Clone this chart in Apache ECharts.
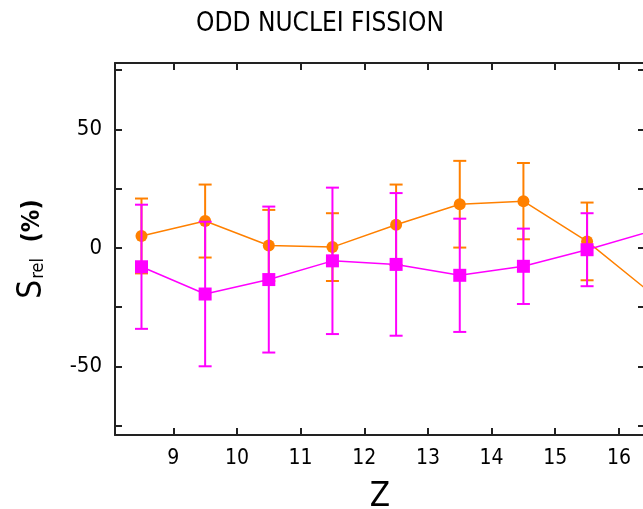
<!DOCTYPE html>
<html>
<head>
<meta charset="utf-8">
<script src="https://cdn.jsdelivr.net/npm/echarts@6/dist/echarts.min.js"></script>
<style>
html,body{margin:0;padding:0;background:#fff;}
#chart{width:643px;height:509px;}
</style>
</head>
<body>
<div id="chart"></div>
<script>
// ---- data ----
const zValues = [8.5, 9.5, 10.5, 11.5, 12.5, 13.5, 14.5, 15.5, 16.5];
const orangeValues = [5.0, 11.3, 1.0, 0.3, 9.7, 18.4, 19.7, 2.7, -19.0];
const orangeErrors = [15.8, 15.4, 15.0, 14.3, 17.0, 18.3, 16.1, 16.4, 15.0];
const magentaValues = [-8.0, -19.5, -13.4, -5.5, -7.0, -11.6, -7.8, -0.8, 7.0];
const magentaErrors = [26.2, 30.5, 30.8, 30.9, 30.1, 23.9, 15.9, 15.4, 15.0];
const xTickValues = [9, 10, 11, 12, 13, 14, 15, 16];
const yTickValues = [-75, -50, -25, 0, 25, 50, 75];
const yLabelValues = [-50, 0, 50];
const titleText = 'ODD NUCLEI FISSION';
const xName = 'Z';

const ORANGE = '#FF8000';
const MAGENTA = '#FF00FF';
const AXIS = '#222222';
const FONT = "'Liberation Sans Narrow', 'DejaVu Sans Condensed', 'Liberation Sans', sans-serif";

function pairs(vals) { return zValues.map((z, i) => [z, vals[i]]); }
function triples(vals, errs) { return zValues.map((z, i) => [z, vals[i], errs[i]]); }

function errorBar(color) {
  return function (params, api) {
    const x = api.value(0), y = api.value(1), e = api.value(2);
    const top = api.coord([x, y + e]);
    const bot = api.coord([x, y - e]);
    const w = 6.5;
    const st = { stroke: color, lineWidth: 2, fill: null };
    return {
      type: 'group',
      children: [
        { type: 'line', shape: { x1: top[0], y1: top[1], x2: bot[0], y2: bot[1] }, style: st },
        { type: 'line', shape: { x1: top[0] - w, y1: top[1], x2: top[0] + w, y2: top[1] }, style: st },
        { type: 'line', shape: { x1: bot[0] - w, y1: bot[1], x2: bot[0] + w, y2: bot[1] }, style: st }
      ]
    };
  };
}

const xMin = 8.084, xMax = 16.41, yMin = -79, yMax = 78;
const axisLineStyle = { color: AXIS, width: 2 };

const chart = echarts.init(document.getElementById('chart'), null, { renderer: 'canvas' });
chart.setOption({
  animation: false,
  backgroundColor: '#fff',
  title: {
    text: titleText,
    left: 315,
    top: 6,
    textAlign: 'center',
    textStyle: { fontFamily: FONT, fontSize: 26, fontWeight: 'normal', color: '#000' }
  },
  grid: { left: 115, top: 63, width: 530, height: 372, containLabel: false, outerBoundsMode: 'none' },
  xAxis: [
    {
      type: 'value', position: 'bottom', min: xMin, max: xMax,
      axisLine: { show: true, onZero: false, lineStyle: axisLineStyle },
      axisTick: { show: true, inside: true, length: 7, customValues: xTickValues, lineStyle: axisLineStyle },
      axisLabel: { show: true, customValues: xTickValues, margin: 13, fontFamily: FONT, fontSize: 21, color: '#000' },
      splitLine: { show: false },
      name: xName, nameLocation: 'middle', nameGap: 46,
      nameTextStyle: { fontFamily: FONT, fontSize: 33, color: '#000' }
    },
    {
      type: 'value', position: 'top', min: xMin, max: xMax,
      axisLine: { show: true, onZero: false, lineStyle: axisLineStyle },
      axisTick: { show: true, inside: true, length: 7, customValues: xTickValues, lineStyle: axisLineStyle },
      axisLabel: { show: false },
      splitLine: { show: false }
    }
  ],
  yAxis: [
    {
      type: 'value', position: 'left', min: yMin, max: yMax,
      axisLine: { show: true, onZero: false, lineStyle: axisLineStyle },
      axisTick: { show: true, inside: true, length: 7, customValues: yTickValues, lineStyle: axisLineStyle },
      axisLabel: { show: true, customValues: yLabelValues, margin: 13, fontFamily: FONT, fontSize: 22, color: '#000' },
      splitLine: { show: false },
      name: '{s|S}{sub|rel}{p|  (%)}',
      nameLocation: 'middle', nameGap: 66, nameRotate: 90,
      nameTextStyle: {
        color: '#000',
        rich: {
          s: { fontFamily: FONT, fontSize: 33, color: '#000' },
          sub: { fontFamily: FONT, fontSize: 18, color: '#000', padding: [12, 0, 0, 1] },
          p: { fontFamily: FONT, fontSize: 25, fontWeight: 'bold', color: '#000' }
        }
      }
    },
    {
      type: 'value', position: 'right', min: yMin, max: yMax,
      axisLine: { show: true, onZero: false, lineStyle: axisLineStyle },
      axisTick: { show: true, inside: true, length: 7, customValues: yTickValues, lineStyle: axisLineStyle },
      axisLabel: { show: false },
      splitLine: { show: false }
    }
  ],
  series: [
    {
      name: 'orange errors', type: 'custom', xAxisIndex: 0, yAxisIndex: 0,
      renderItem: errorBar(ORANGE), data: triples(orangeValues, orangeErrors), clip: true, z: 2
    },
    {
      name: 'orange', type: 'line', xAxisIndex: 0, yAxisIndex: 0,
      data: pairs(orangeValues), clip: true,
      symbol: 'circle', symbolSize: 12,
      lineStyle: { color: ORANGE, width: 1.5 },
      itemStyle: { color: ORANGE },
      z: 3
    },
    {
      name: 'magenta errors', type: 'custom', xAxisIndex: 0, yAxisIndex: 0,
      renderItem: errorBar(MAGENTA), data: triples(magentaValues, magentaErrors), clip: true, z: 4
    },
    {
      name: 'magenta', type: 'line', xAxisIndex: 0, yAxisIndex: 0,
      data: pairs(magentaValues), clip: true,
      symbol: 'rect', symbolSize: 13,
      lineStyle: { color: MAGENTA, width: 1.5 },
      itemStyle: { color: MAGENTA },
      z: 5
    }
  ]
});
</script>
</body>
</html>
